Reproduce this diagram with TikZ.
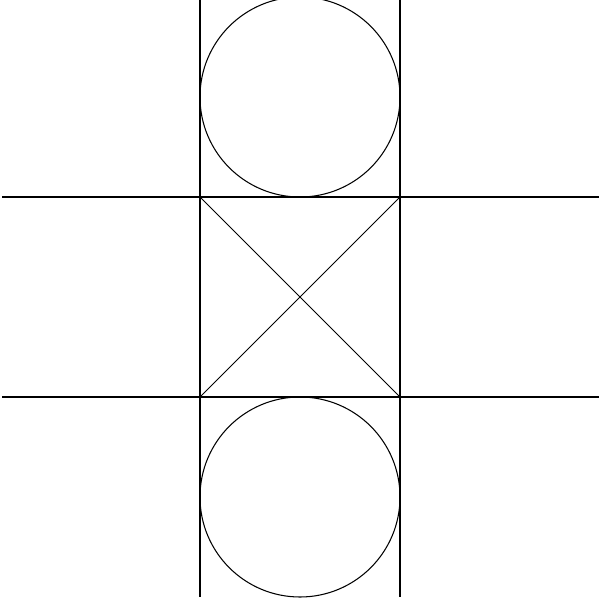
\documentclass[tikz,border=0pt]{standalone}
\usepackage{tikz}
\usetikzlibrary{calc}

\begin{document}
\begin{tikzpicture}[x=0.02cm,y=-0.02cm,every path/.style={line width=0.6pt}]
  \useasboundingbox (0,0) rectangle (603,599);
  \coordinate (TL) at (200,197);
  \coordinate (TR) at (400,197);
  \coordinate (BL) at (200,397);
  \coordinate (BR) at (400,397);
  \draw (200,0) -- (200,597);
  \draw (400,0) -- (400,597);
  \draw (2,197) -- (599,197);
  \draw (2,397) -- (599,397);
  \draw (TL) -- (BR);
  \draw (TR) -- (BL);
  \draw (300,97) circle[radius=100];
  \draw (300,497) circle[radius=100];
\end{tikzpicture}
\end{document}
